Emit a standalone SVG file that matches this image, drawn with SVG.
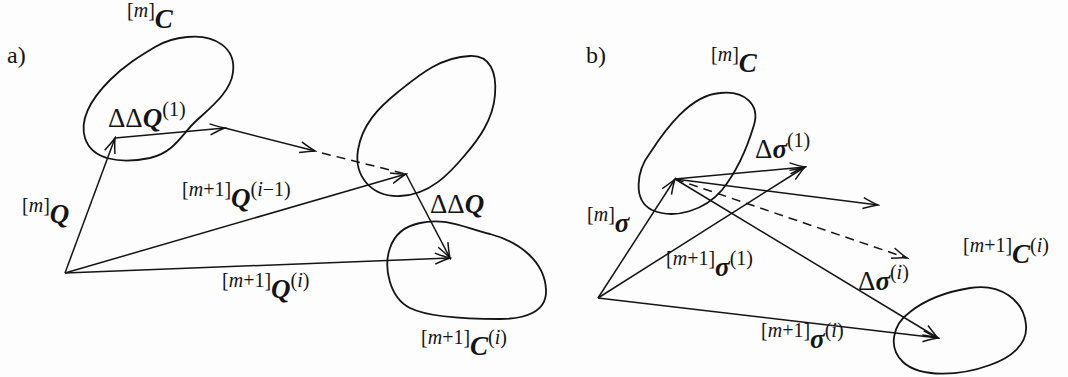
<svg xmlns="http://www.w3.org/2000/svg" width="1068" height="377" viewBox="0 0 1068 377">
<style>
.blob{fill:none;stroke:#141414;stroke-width:1.8}
.v{fill:none;stroke:#141414;stroke-width:1.5;marker-end:url(#ah)}
.d{fill:none;stroke:#141414;stroke-width:1.5;stroke-dasharray:9 6}
text{font-family:"Liberation Serif","DejaVu Serif",serif;fill:#141414}
.s{font-size:20px}
.i{font-style:italic}
.M{font-size:27px;font-weight:bold;font-style:italic}
.D{font-size:27px}
.lab{font-size:24px}
</style>
<defs>
<marker id="ah" markerUnits="userSpaceOnUse" viewBox="-17 -7 19 14" refX="0" refY="0" markerWidth="19" markerHeight="14" orient="auto">
<path d="M -15,-5.5 Q -5,-1.3 0,0 Q -5,1.3 -15,5.5" fill="none" stroke="#141414" stroke-width="1.5"/>
</marker>
</defs>
<rect width="1068" height="377" fill="#fdfdfd"/>

<g id="blob-a-mC"><path class="blob" d="M 187,37 C 215,34 236,48 233,72 C 231,92 210,108 195,122 C 182,134 175,152 150,158 C 120,164 92,160 85,138 C 79,118 92,98 110,80 C 125,65 140,56 155,47 C 165,41 175,38 187,37 Z"/></g>
<g id="blob-a-mid"><path class="blob" d="M 470,56 C 490,55 497,72 495,95 C 493,120 478,140 465,155 C 450,173 430,195 400,196 C 370,197 354,175 358,150 C 362,125 378,108 398,92 C 418,76 440,57 470,56 Z"/></g>
<g id="blob-a-m1C"><path class="blob" d="M 420,223 C 445,217 465,228 490,234 C 520,242 545,262 546,290 C 547,312 525,319 500,319 C 470,319 430,318 410,308 C 390,298 383,268 390,248 C 395,233 405,226 420,223 Z"/></g>
<g id="blob-b-mC"><path class="blob" d="M 720,93 C 745,90 760,105 754,125 C 748,145 738,170 722,190 C 705,210 675,220 652,210 C 632,200 637,170 650,153 C 665,130 690,95 720,93 Z"/></g>
<g id="blob-b-m1C"><path class="blob" d="M 970,288 C 1000,283 1024,300 1026,325 C 1028,345 1010,358 990,365 C 960,376 920,378 903,362 C 888,348 892,325 910,312 C 925,300 945,292 970,288 Z"/></g>

<g id="connectors">
<line class="v" x1="65" y1="273" x2="115" y2="138"/>
<line class="v" x1="115" y1="138" x2="225" y2="128"/>
<line class="v" x1="225" y1="128" x2="315" y2="151"/>
<line class="d" x1="322" y1="153" x2="406" y2="174"/>
<line class="v" x1="65" y1="273" x2="406" y2="174"/>
<line class="v" x1="406" y1="174" x2="450" y2="258"/>
<line class="v" x1="65" y1="273" x2="450" y2="258"/>

<line class="v" x1="598" y1="298" x2="675" y2="179"/>
<line class="v" x1="675" y1="179" x2="805" y2="167"/>
<line class="v" x1="598" y1="298" x2="805" y2="167"/>
<line class="v" x1="675" y1="179" x2="878" y2="205"/>
<line class="d" x1="675" y1="179" x2="907" y2="258" style="marker-end:url(#ah)"/>
<line class="v" x1="675" y1="179" x2="938" y2="338"/>
<line class="v" x1="598" y1="298" x2="938" y2="338"/>
</g>

<g id="labels">
<text class="lab" x="7" y="63">a)</text>
<text class="lab" x="586" y="63">b)</text>
<text x="127" y="28"><tspan class="s" dy="-11">[</tspan><tspan class="s i">m</tspan><tspan class="s">]</tspan><tspan class="M" dy="11">C</tspan></text>
<text x="711" y="72"><tspan class="s" dy="-11">[</tspan><tspan class="s i">m</tspan><tspan class="s">]</tspan><tspan class="M" dy="11">C</tspan></text>
<text x="108" y="127"><tspan class="D">ΔΔ</tspan><tspan class="M">Q</tspan><tspan class="s" dy="-11">(1)</tspan></text>
<text x="22" y="223"><tspan class="s" dy="-11">[</tspan><tspan class="s i">m</tspan><tspan class="s">]</tspan><tspan class="M" dy="11">Q</tspan></text>
<text x="182" y="207"><tspan class="s" dy="-11">[</tspan><tspan class="s i">m</tspan><tspan class="s">+1]</tspan><tspan class="M" dy="11">Q</tspan><tspan class="s" dy="-11">(</tspan><tspan class="s i">i</tspan><tspan class="s">−1)</tspan></text>
<text x="430" y="213"><tspan class="D">ΔΔ</tspan><tspan class="M">Q</tspan></text>
<text x="222" y="298"><tspan class="s" dy="-11">[</tspan><tspan class="s i">m</tspan><tspan class="s">+1]</tspan><tspan class="M" dy="11">Q</tspan><tspan class="s" dy="-11">(</tspan><tspan class="s i">i</tspan><tspan class="s">)</tspan></text>
<text x="421" y="355"><tspan class="s" dy="-11">[</tspan><tspan class="s i">m</tspan><tspan class="s">+1]</tspan><tspan class="M" dy="11">C</tspan><tspan class="s" dy="-11">(</tspan><tspan class="s i">i</tspan><tspan class="s">)</tspan></text>
<text x="755" y="158"><tspan class="D">Δ</tspan><tspan class="M">σ</tspan><tspan class="s" dy="-11">(1)</tspan></text>
<text x="587" y="232"><tspan class="s" dy="-11">[</tspan><tspan class="s i">m</tspan><tspan class="s">]</tspan><tspan class="M" dy="11">σ</tspan></text>
<text x="666" y="276"><tspan class="s" dy="-11">[</tspan><tspan class="s i">m</tspan><tspan class="s">+1]</tspan><tspan class="M" dy="11">σ</tspan><tspan class="s" dy="-11">(1)</tspan></text>
<text x="858" y="290"><tspan class="D">Δ</tspan><tspan class="M">σ</tspan><tspan class="s" dy="-11">(</tspan><tspan class="s i">i</tspan><tspan class="s">)</tspan></text>
<text x="761" y="348"><tspan class="s" dy="-11">[</tspan><tspan class="s i">m</tspan><tspan class="s">+1]</tspan><tspan class="M" dy="11">σ</tspan><tspan class="s" dy="-11">(</tspan><tspan class="s i">i</tspan><tspan class="s">)</tspan></text>
<text x="963" y="263"><tspan class="s" dy="-11">[</tspan><tspan class="s i">m</tspan><tspan class="s">+1]</tspan><tspan class="M" dy="11">C</tspan><tspan class="s" dy="-11">(</tspan><tspan class="s i">i</tspan><tspan class="s">)</tspan></text>
</g>
</svg>
